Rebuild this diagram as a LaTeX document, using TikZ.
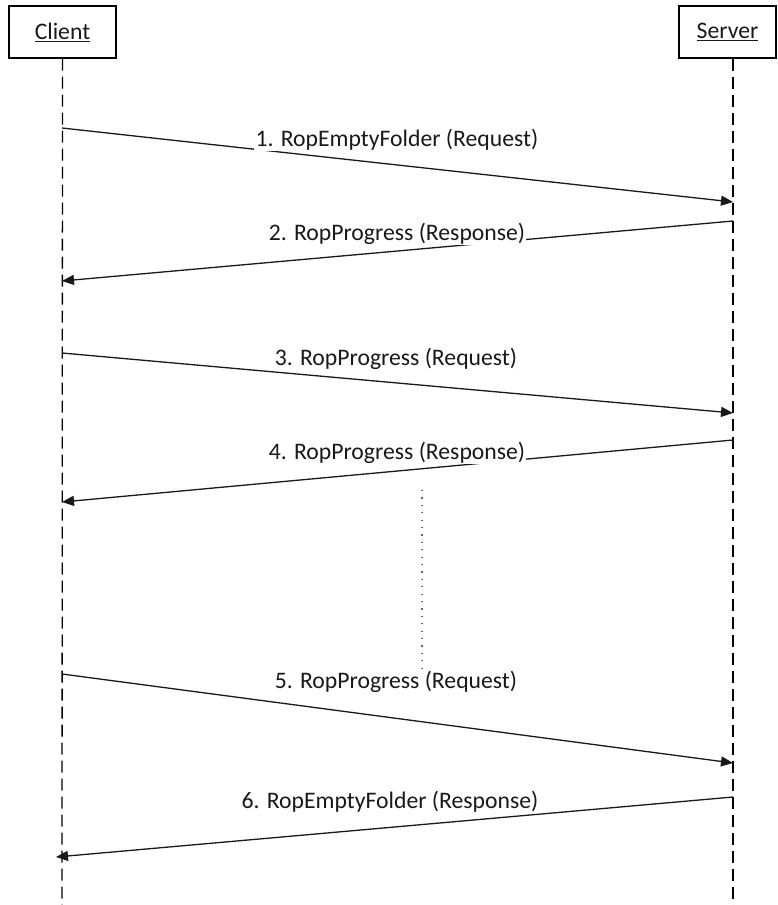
\documentclass[tikz,border=0pt]{standalone}
\usepackage{fontspec}
\setmainfont{Carlito}
\usetikzlibrary{arrows.meta}
\begin{document}
\begin{tikzpicture}[x=1pt,y=-1pt,
  actor/.style={draw=black,line width=1.3pt,minimum width=107pt,minimum height=52pt,inner sep=0pt,text=black!90,font=\fontsize{23.7}{28}\selectfont},
  lifeline/.style={black,line width=1.3pt,dash pattern=on 12pt off 6pt},
  msg/.style={black!90,line width=1.3pt,-{Triangle[length=12pt,width=10pt]}},
  lbl/.style={anchor=base,inner sep=1.2pt,fill=white,text=black!90,font=\fontsize{23.7}{28}\selectfont}]
\useasboundingbox (0,0) rectangle (777,905);
\fill[white] (0,0) rectangle (777,905);
% actors
\node[actor] (client) at (62.5,32) {\underline{Client}};
\node[actor,minimum width=97pt] (server) at (727.5,32) {\underline{Server}};
% lifeline ends
\coordinate (cend) at (62,905);
\coordinate (send) at (733,905);
\draw[lifeline] (client.south) -- (cend);
\draw[lifeline] (server.south -| send) -- (send);
% message endpoints
\coordinate (c1) at (62,128);  \coordinate (s1) at (733,202);
\coordinate (s2) at (733,221); \coordinate (c2) at (62,281);
\coordinate (c3) at (62,353);  \coordinate (s3) at (733,413);
\coordinate (s4) at (733,440); \coordinate (c4) at (62,502);
\coordinate (c5) at (62,674);  \coordinate (s5) at (733,763);
\coordinate (s6) at (733,797); \coordinate (c6) at (56,857);
\draw[msg] (c1) -- (s1);
\draw[msg] (s2) -- (c2);
\draw[msg] (c3) -- (s3);
\draw[msg] (s4) -- (c4);
\draw[msg] (c5) -- (s5);
\draw[msg] (s6) -- (c6);
% labels
\node[lbl] (l1) at (397,146) {1. RopEmptyFolder (Request)};
\node[lbl] (l2) at (397,240) {2. RopProgress (Response)};
\node[lbl] (l3) at (396,365) {3. RopProgress (Request)};
\node[lbl] (l4) at (397,459) {4. RopProgress (Response)};
\node[lbl] (l5) at (396,688) {5. RopProgress (Request)};
\node[lbl] (l6) at (390,808) {6. RopEmptyFolder (Response)};
% continuation dots
\coordinate (d1) at (422,490);
\coordinate (d2) at (422,672);
\draw[black!60,line width=1.2pt,dash pattern=on 1.2pt off 6.2pt] (d1) -- (d2);
\end{tikzpicture}
\end{document}
